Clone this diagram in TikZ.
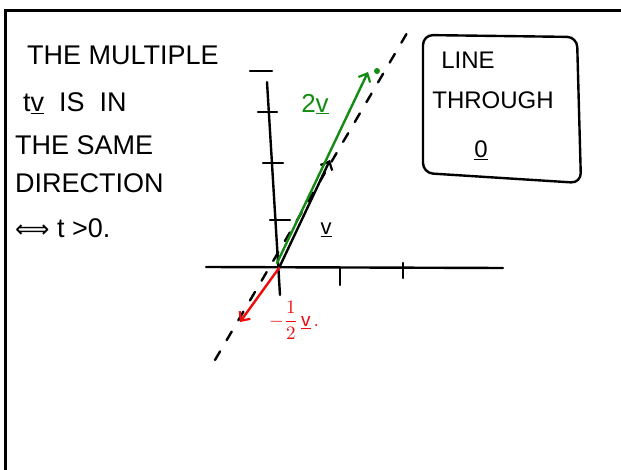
\documentclass[tikz,border=0pt]{standalone}
\usepackage{fontspec}
\setmainfont{Liberation Sans}
\newfontfamily\djv{DejaVu Sans}
\usetikzlibrary{arrows.meta}
\definecolor{pgreen}{RGB}{20,140,20}
\definecolor{pred}{RGB}{240,10,10}
\begin{document}
\begin{tikzpicture}[x=1pt,y=-1pt,
  stroke/.style={line width=2.4pt,line cap=round,line join=round},
  hand/.style={font=\fontsize{27}{29}\selectfont,inner sep=0pt},
  boxtext/.style={font=\fontsize{24}{26}\selectfont,inner sep=0pt},
  vecarrow/.style={stroke,-{Straight Barb[length=7pt,width=13pt,line width=2.2pt]}},
  dashline/.style={stroke,dash pattern=on 10pt off 13pt}]
\useasboundingbox (0,0) rectangle (621,470);
% frame
\draw[line width=2.6pt] (5.5,470) -- (5.5,10.5) -- (621,10.5);
% coordinates
\coordinate (O) at (279,268);
\coordinate (xl) at (206,267);
\coordinate (xr) at (503,268);
\coordinate (yt) at (267,82);
\coordinate (yb) at (280,295);
\coordinate (d1) at (215,360);
\coordinate (d2) at (410,28);
\coordinate (vtip) at (330,160);
\coordinate (g0) at (277,263);
\coordinate (gtip) at (368,72);
\coordinate (rtip) at (240,322);
% dashed line
\draw[dashline] (d1) -- (d2);
% axes
\draw[stroke] (xl) -- (xr);
\draw[stroke] (yt) -- (yb);
\draw[stroke] (250,71) -- (272,71);
\draw[stroke] (258,112) -- (277,112);
\draw[stroke] (263,163) -- (283,163);
\draw[stroke] (270,220) -- (290,220);
\draw[stroke] (340,268) -- (340,285);
\draw[stroke] (403,263) -- (403,278);
% vectors
\draw[vecarrow] (O) -- (vtip);
\draw[vecarrow,pgreen] (g0) -- (gtip);
\draw[vecarrow,pred] (O) -- (rtip);
\fill[pgreen] (377,71) circle (3pt);
% labels
\node[hand,font=\fontsize{26}{28}\selectfont,text=pgreen] (lab2v) at (315,104) {2\underline{v}};
\node[hand,font=\fontsize{22}{24}\selectfont] (labv) at (326,230) {\underline{v}};
\node[text=pred,inner sep=0pt] (labr) at (294,320) {\scalebox{1.9}{$\displaystyle-\frac{1}{2}\,\underline{\mathrm{v}}\,.$}};
% box
\draw[stroke,rounded corners=10pt] (423,35) -- (577,37) -- (581,183) -- (423,173) -- cycle;
\node[boxtext] (line) at (468,60) {LINE};
\node[boxtext] (through) at (493,100) {THROUGH};
\node[boxtext] (zero) at (481,150) {\underline{0}};
% left text
\node[hand,anchor=west] (t1) at (27,55) {THE MULTIPLE};
\node[hand,anchor=west] (t2) at (23,103) {t\underline{v} \ IS \ IN};
\node[hand,anchor=west] (t3) at (15,145) {THE SAME};
\node[hand,anchor=west] (t4) at (15,183) {DIRECTION};
\node[hand,anchor=west] (t5) at (15,228) {{\djv\fontsize{24}{26}\selectfont ⟺}\ t >0.};
\end{tikzpicture}
\end{document}
